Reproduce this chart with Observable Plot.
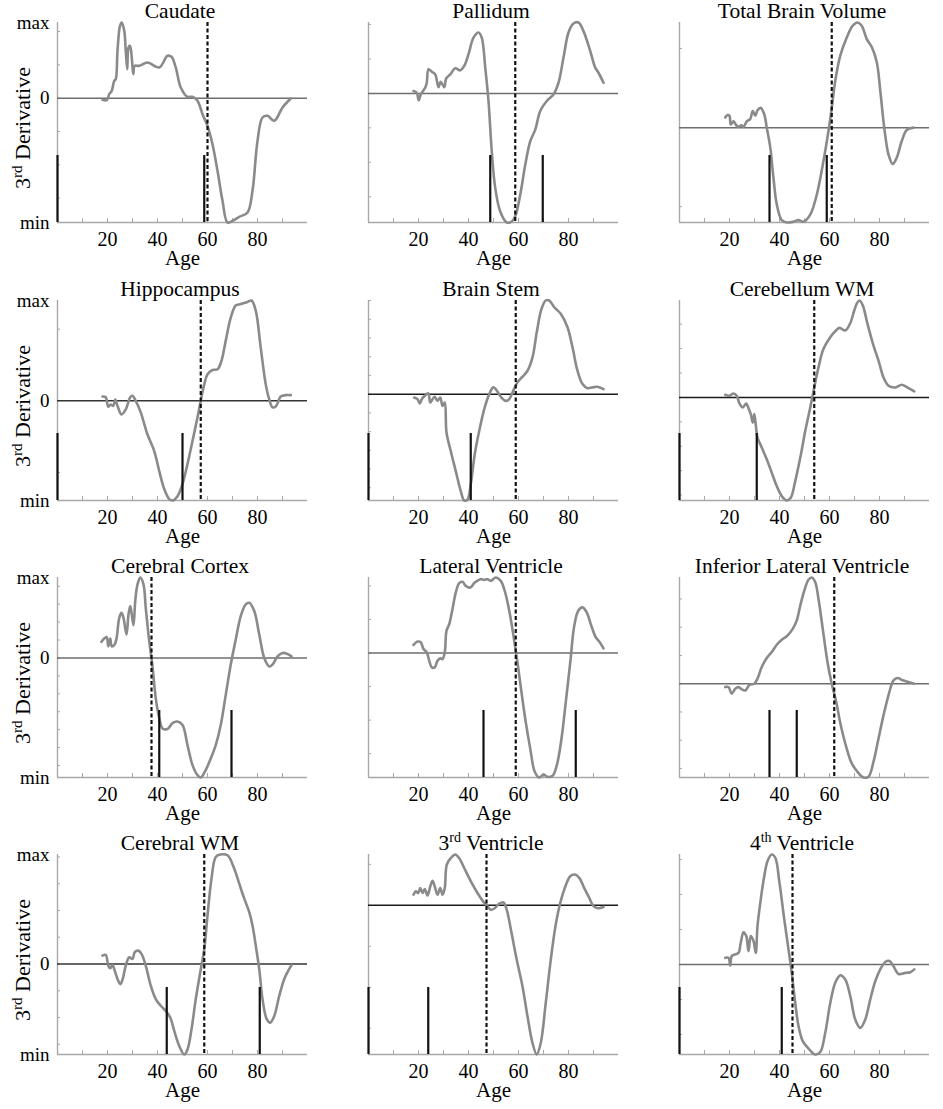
<!DOCTYPE html>
<html><head><meta charset="utf-8">
<script src="https://cdn.jsdelivr.net/npm/d3@7"></script>
<script src="https://cdn.jsdelivr.net/npm/@observablehq/plot@0.6"></script>
<style>
body{margin:0;background:#fff;}
#chart{position:relative;width:943px;height:1109px;background:#fff;}
#chart svg{position:absolute;}
</style></head><body><div id="chart"></div>
<script>
// ---- data: [age, 3rd derivative (arbitrary units, 1 = one y tick)] ----
const titles = ["Caudate","Pallidum","Total Brain Volume","Hippocampus","Brain Stem","Cerebellum WM",
  "Cerebral Cortex","Lateral Ventricle","Inferior Lateral Ventricle","Cerebral WM","3rd Ventricle","4th Ventricle"];
const xTickLabels = [20, 40, 60, 80];
const xMinorTicks = [10, 20, 30, 40, 50, 60, 70, 80, 90];
const yLabels = ["max", "0", "min"];

const caudate = [[18,-0.05],[19.7,-0.06],[20.7,0.12],[21.7,0.22],[22.7,0.52],[23.3,0.57],[24,1.42],[25,2.17],[25.7,2.27],[26.7,2.02],[27.3,1.42],[27.9,0.87],[28.4,1.52],[29,1.57],[29.7,1.22],[30.3,0.72],[30.9,0.97],[32.7,0.97],[36,1.07],[40.7,0.92],[44,1.27],[45.6,1.24],[47.3,0.92],[49.3,0.32],[52,0.04],[54,0.04],[56,-0.08],[58,-0.48],[60,-0.83],[62,-1.38],[64,-2.18],[66,-3.08],[68,-3.73],[70,-3.68],[72.7,-3.56],[76,-3.43],[78,-2.78],[80,-1.28],[82,-0.58],[84,-0.53],[86.7,-0.68],[90,-0.28],[93.3,-0.01]];
const pallidum = [[18,0.07],[19.3,0.02],[20.1,-0.2],[20.9,-0.03],[22.7,0.17],[23.3,0.31],[24,0.70],[25.3,0.63],[26.7,0.55],[28,0.18],[28.9,0.34],[30.3,0.18],[31.1,0.44],[32.7,0.55],[34.7,0.73],[36.7,0.67],[38.3,0.80],[40,1.14],[42,1.62],[44,1.77],[45.3,1.62],[46.7,0.75],[48,-0.22],[49.3,-1.68],[50.7,-2.75],[52.7,-3.43],[55.3,-3.75],[57.3,-3.72],[58.7,-3.57],[60.7,-2.94],[62.7,-2.07],[64.7,-1.39],[66.7,-1.05],[68.7,-0.51],[71.3,-0.22],[74,-0.03],[76,0.31],[78,1.04],[80,1.77],[82,2.03],[84,2.06],[86,1.81],[88.7,1.23],[90.7,0.75],[92,0.60],[94,0.31]];
const totalBrain = [[18.3,0.13],[19.3,0.16],[20,0.15],[20.5,0.04],[21.6,0.08],[22.7,0.03],[23.6,0.01],[24.7,0.03],[25.6,0.01],[26.9,0.08],[28.3,0.11],[29.3,0.21],[30.3,0.15],[31.2,0.22],[32.5,0.25],[33.9,0.17],[34.9,0],[36.3,-0.25],[37.6,-0.64],[38.9,-0.97],[40.9,-1.17],[42.9,-1.2],[45.6,-1.19],[47.6,-1.17],[49.6,-1.19],[52.3,-1.10],[54.9,-0.85],[57.6,-0.42],[59.6,-0.04],[60.9,0.25],[62.3,0.59],[64.3,0.91],[66.9,1.14],[69.3,1.29],[71.2,1.33],[72.9,1.29],[74.9,1.12],[76.9,1.02],[78.9,0.83],[80.3,0.47],[81.9,0],[83.6,-0.34],[85.3,-0.46],[86.9,-0.38],[88.9,-0.17],[90.9,-0.03],[93.6,0]];
const hippocampus = [[18,0.06],[19.3,0.05],[20.3,-0.08],[21.3,-0.05],[22.3,-0.07],[23.1,0.02],[24,-0.07],[25.6,-0.19],[27.3,-0.12],[29.1,0.05],[30,0.07],[31.3,0],[33.3,-0.16],[36,-0.47],[38.7,-0.70],[40.7,-0.98],[42.7,-1.23],[44.7,-1.37],[46,-1.39],[48,-1.33],[50,-1.16],[52,-0.88],[54,-0.56],[56,-0.23],[57.3,0],[58.7,0.23],[60,0.37],[62,0.43],[64,0.44],[65.6,0.56],[67.3,0.84],[69.3,1.16],[71.3,1.33],[73.3,1.35],[76,1.38],[77.6,1.40],[79.3,1.26],[81.3,0.74],[83.3,0.23],[84.7,0.02],[86,-0.09],[87.3,-0.08],[89.3,0.06],[91.3,0.08],[93.3,0.08]];
const brainStem = [[18.3,-0.18],[19.6,-0.27],[20.5,-0.5],[21.3,-0.27],[22.5,-0.09],[23.9,0.04],[24.7,-0.45],[25.6,-0.27],[26.5,-0.14],[27.6,-0.36],[28.7,-0.18],[29.6,-0.63],[30.5,-0.45],[31.2,-2.05],[32.9,-3.04],[34.9,-4.11],[36.9,-5.18],[38.3,-5.68],[39.6,-5.63],[40.9,-4.82],[42.5,-3.21],[44.3,-1.96],[46.3,-0.8],[48.3,0],[49.9,0.36],[50.9,0.27],[52.9,-0.14],[54.9,-0.36],[56.3,-0.27],[57.6,0.09],[59.6,0.63],[61.6,0.93],[63.6,1.25],[65.6,1.96],[67.3,3.3],[69.2,4.55],[70.9,5.0],[72.3,5.0],[74.3,4.64],[76.9,4.29],[79.6,3.57],[81.6,2.5],[83.6,1.25],[85.6,0.54],[87.6,0.32],[89.6,0.36],[91.6,0.39],[94,0.27]];
const cerebellumWM = [[18.3,0.11],[20,0.07],[21.6,0.16],[22.9,0.07],[24,-0.25],[25.3,-0.41],[26.7,-0.25],[27.6,-0.44],[28.5,-0.68],[29.3,-1.03],[29.9,-0.68],[30.5,-1.10],[31.2,-1.64],[32.9,-2.05],[34.9,-2.53],[36.9,-3.08],[38.9,-3.63],[40.9,-4.04],[42.9,-4.22],[44.5,-4.11],[46.3,-3.42],[48.3,-2.47],[50.3,-1.37],[52.3,-0.41],[53.9,0.41],[55.6,1.23],[57.6,1.99],[60.3,2.47],[62.3,2.71],[64,2.85],[66.3,2.74],[68.3,3.04],[69.9,3.56],[70.9,3.84],[72,3.97],[73.3,3.77],[75.2,3.01],[77.6,2.12],[79.6,1.51],[81.6,0.82],[83.6,0.48],[86.3,0.41],[88.9,0.52],[91.6,0.38],[93.9,0.25]];
const cerebralCortex = [[17.6,0.9],[18.7,1.08],[19.7,1.16],[20.3,0.65],[21.1,1.08],[21.7,0.65],[22.7,0.71],[23.6,1.08],[24.7,2.24],[25.6,2.52],[26.4,2.24],[27.6,1.31],[28.4,2.43],[29.1,2.9],[29.7,2.43],[30.4,1.83],[31.1,3.18],[32,4.11],[33.1,4.49],[34.4,4.11],[35.3,2.8],[36.7,0.93],[38,-0.47],[39.3,-2.24],[40.7,-3.36],[42,-3.93],[44,-3.96],[46,-3.64],[48,-3.55],[50,-3.74],[52,-4.86],[54,-5.98],[56,-6.54],[57.3,-6.67],[58.9,-6.36],[61.3,-5.61],[63.3,-4.86],[65.3,-3.74],[67.3,-2.06],[69.3,-0.37],[71.3,1.03],[73.3,2.34],[75.3,2.99],[76.7,3.08],[78.7,2.62],[80.7,1.31],[82.7,0],[84.7,-0.47],[86,-0.37],[88,0.09],[90,0.28],[92,0.22],[93.6,0.09]];
const lateralVentricle = [[18,0.24],[19.6,0.34],[20.9,0.32],[22,0.12],[23.3,0.02],[24.3,-0.23],[25.3,-0.43],[26.5,-0.43],[27.6,-0.23],[28.7,-0.16],[29.6,-0.18],[30.5,0.02],[31.2,0.66],[32.3,0.86],[33.6,1.31],[34.9,1.8],[36.3,2.08],[37.6,2.12],[38.9,2.0],[40.7,1.95],[42.5,2.1],[44.7,2.2],[46.3,2.18],[47.6,2.2],[48.9,2.15],[50.9,2.25],[52.9,2.15],[54.5,1.85],[56.3,1.26],[58,0.51],[59.6,-0.28],[61.2,-1.17],[62.9,-2.06],[64.7,-2.85],[66.5,-3.54],[68.3,-3.71],[70,-3.62],[71.6,-3.69],[73.6,-3.66],[75.3,-3.35],[77.2,-2.55],[78.9,-1.47],[80.7,-0.28],[82.3,0.81],[83.9,1.26],[85.6,1.36],[87.3,1.21],[88.9,0.86],[90.9,0.47],[92.3,0.34],[94,0.14]];
const infLatVentricle = [[18.3,-0.12],[19.6,-0.12],[20.9,-0.35],[22.3,-0.18],[23.6,-0.12],[24.9,-0.2],[26.3,-0.24],[28,-0.04],[29.9,0],[31.2,0.18],[32.9,0.59],[34.9,0.91],[36.9,1.12],[38.9,1.38],[40.9,1.56],[42.9,1.68],[45.3,1.94],[46.9,2.24],[48.3,2.76],[49.9,3.29],[51.6,3.68],[52.9,3.76],[54.3,3.59],[55.6,3.0],[57.3,1.94],[59.2,0.76],[60.9,0],[62.7,-0.65],[64.5,-1.47],[66.7,-2.24],[68.9,-2.82],[71.2,-3.12],[73.6,-3.32],[75.6,-3.29],[77.6,-2.76],[79.6,-1.94],[81.6,-1.12],[83.6,-0.41],[85.6,0.12],[87.3,0.2],[89.3,0.12],[91.6,0.06],[93.9,0]];
const cerebralWM = [[18,0.31],[19.3,0.34],[20.3,-0.06],[21.1,-0.16],[22,-0.04],[22.9,-0.25],[24,-0.56],[25.1,-0.75],[26,-0.59],[27.3,-0.06],[28.7,0.25],[30,0.19],[30.9,0.44],[32.3,0.5],[33.6,0.38],[35.3,-0.06],[37.3,-0.81],[39.3,-1.31],[41.3,-1.56],[43.3,-1.75],[45.1,-2.0],[46.7,-2.5],[48.7,-3.06],[50.7,-3.38],[52,-3.19],[53.6,-2.44],[55.3,-1.31],[57.1,-0.31],[58.7,0.56],[60,1.81],[61.6,3.19],[63.3,4.0],[65.1,4.09],[68,4.06],[70.7,3.56],[72.7,3.0],[74.7,2.44],[76.7,1.94],[78,1.44],[79.3,0.69],[80.7,-0.19],[82,-1.31],[83.7,-2.06],[85.1,-2.19],[86.7,-1.94],[88.7,-1.19],[90.7,-0.56],[92.3,-0.25],[93.6,-0.04]];
const thirdVentricle = [[18,0.26],[18.9,0.34],[19.9,0.30],[20.7,0.42],[21.6,0.30],[22.5,0.40],[23.6,0.24],[24.7,0.46],[25.6,0.60],[26.5,0.46],[27.6,0.26],[28.7,0.42],[29.6,0.26],[30.5,0.42],[31.3,0.99],[32.9,1.15],[34.7,1.24],[36.3,1.15],[38.3,0.91],[40.9,0.59],[43.6,0.30],[46.3,0.06],[47.6,-0.02],[48.9,-0.11],[50.5,-0.07],[52.3,0.04],[54,0.07],[55.3,-0.11],[57.2,-0.67],[59.3,-1.33],[61.6,-1.98],[63.6,-2.71],[65.6,-3.36],[67.3,-3.64],[68.9,-3.36],[70.9,-2.38],[72.9,-1.33],[74.9,-0.47],[76.7,0.06],[78.5,0.42],[80.7,0.71],[82.5,0.75],[84.3,0.67],[86.3,0.42],[88.3,0.18],[90,-0.02],[91.9,-0.07],[94,-0.04]];
const fourthVentricle = [[18.3,0.19],[19.6,0.19],[20.3,-0.03],[20.9,0.24],[22.3,0.29],[23.6,0.33],[24.5,0.62],[25.6,0.92],[26.7,0.81],[27.6,0.38],[28.5,0.81],[29.6,0.67],[30.5,0.33],[31.2,1.10],[32.5,1.86],[33.9,2.52],[35.2,2.95],[36.9,3.14],[38.3,3.05],[40,2.33],[41.9,1.29],[43.6,0.43],[44.9,-0.24],[46.3,-1.10],[47.6,-1.76],[49.3,-2.19],[51.6,-2.4],[54.3,-2.57],[56.3,-2.50],[58.3,-1.95],[60.3,-1.10],[62.3,-0.52],[64.3,-0.31],[66.3,-0.43],[68.3,-0.90],[70.3,-1.57],[72.3,-1.81],[74.3,-1.57],[76.3,-1.0],[78.3,-0.48],[80.3,-0.14],[82.3,0.07],[84,0.10],[85.6,-0.05],[87.6,-0.27],[90.3,-0.24],[92.3,-0.22],[93.9,-0.14]];

const curves = [caudate, pallidum, totalBrain, hippocampus, brainStem, cerebellumWM,
  cerebralCortex, lateralVentricle, infLatVentricle, cerebralWM, thirdVentricle, fourthVentricle];
// ages of the solid black markers and of the dashed line
const markerAges = [[0,58.7],[48.7,69.7],[36,58.9],[0,50],[0,40.9],[0,30.9],[40.7,69.6],[46,82.9],[36,46.9],[43.7,80.9],[0,23.9],[0,40.9]];
const dashedAges = [60, 58.7, 60.9, 57.3, 58.9, 53.9, 37.6, 58.9, 61.9, 58.7, 47.2, 45.2];

// ---- styles ----
const zeroColors = ["#6e6e6e","#6e6e6e","#6e6e6e","#333","#1a1a1a","#1a1a1a","#6e6e6e","#6e6e6e","#6e6e6e","#333","#1a1a1a","#6e6e6e"];
const font = '"Liberation Serif","Times New Roman",serif';
const colLeft = [0, 311, 622];
const rowTop = [0, 278, 555, 832];
const axisGray = "#a8a8a8";

const chart = document.getElementById("chart");

function addRichText(sel, str, sup) {
  const m = str.match(/^(\d)(rd|th)(.*)$/);
  if (!m) { sel.text(str); return; }
  sel.append("tspan").text(m[1]);
  sel.append("tspan").attr("font-size", sup).attr("dy", -8).text(m[2]);
  sel.append("tspan").attr("dy", 8).text(m[3]);
}

curves.forEach((curve, i) => {
  const r = Math.floor(i / 3), c = i % 3;
  const data = curve.map(([age, v]) => ({age, v}));
  const [ymin, ymax] = d3.extent(data, d => d.v);
  const yTicks = d3.range(Math.ceil(ymin), Math.floor(ymax) + 1);
  const marks = [
    Plot.ruleX([0], {stroke: axisGray, strokeWidth: 1.4}),
    Plot.ruleY([ymin], {stroke: axisGray, strokeWidth: 1.4}),
    Plot.tickY(yTicks, {insetRight: 247, stroke: axisGray}),
    Plot.tickX(xMinorTicks, {insetTop: 196, stroke: axisGray}),
    Plot.axisX({ticks: xTickLabels, tickSize: 0, tickPadding: 9, fontSize: 20, label: null}),
    Plot.ruleY([0], {stroke: zeroColors[i], strokeWidth: 1.5}),
    Plot.line(data, {x: "age", y: "v", stroke: "#8a8a8a", strokeWidth: 2.6, curve: "catmull-rom"}),
    Plot.ruleX(markerAges[i], {insetTop: 133, stroke: "#111", strokeWidth: 2.2}),
    Plot.ruleX([dashedAges[i]], {stroke: "#111", strokeWidth: 2.2, strokeDasharray: "4,2.5"}),
    Plot.text(["Age"], {frameAnchor: "bottom", dy: 42, lineAnchor: "bottom", fontSize: 21})
  ];
  if (c === 0) {
    marks.push(Plot.text([{y: ymax, t: yLabels[0]}, {y: 0, t: yLabels[1]}, {y: ymin, t: yLabels[2]}],
      {y: "y", text: "t", frameAnchor: "left", textAnchor: "end", dx: -8, fontSize: 19}));
  }
  const svg = Plot.plot({
    width: 313, height: 277,
    marginLeft: 57, marginRight: 6, marginTop: 22, marginBottom: 55,
    x: {domain: [0, 100]},
    y: {domain: [ymin, ymax], axis: null},
    style: {fontFamily: font, fontSize: "19px", color: "#000", background: "transparent", overflow: "visible"},
    marks
  });
  const s = d3.select(svg);
  const t = s.append("text").attr("x", 57 + 123).attr("y", 18).attr("text-anchor", "middle")
    .attr("font-family", font).attr("font-size", 21.5).attr("fill", "#000");
  addRichText(t, titles[i], 14);
  if (c === 0) {
    const yl = s.append("text").attr("transform", "translate(30,128) rotate(-90)")
      .attr("text-anchor", "middle").attr("font-family", font).attr("font-size", 22).attr("fill", "#000");
    addRichText(yl, "3rd Derivative", 15);
  }
  svg.style.left = colLeft[c] + "px";
  svg.style.top = rowTop[r] + "px";
  chart.appendChild(svg);
});
</script></body></html>
